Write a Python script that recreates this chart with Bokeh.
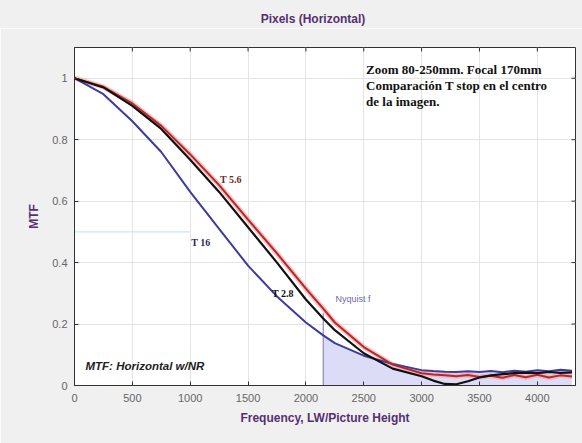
import math
from bokeh.plotting import figure
from bokeh.layouts import column
from bokeh.models import Range1d, Label, ColumnDataSource, FixedTicker, Div
from bokeh.embed import file_html
from bokeh.resources import INLINE

# Spatial frequency (LW/PH) at which each MTF curve is sampled
freq = [0, 250, 500, 750, 1000, 1250, 1500, 1750, 2000, 2150, 2250, 2500, 2750,
        3000, 3100, 3200, 3300, 3400, 3500, 3600, 3700, 3800, 3900, 4000, 4100, 4200, 4300]

# MTF for each T stop
mtf_t28 = [1.0, 0.97, 0.91, 0.835, 0.735, 0.63, 0.515, 0.40, 0.28, 0.218, 0.18, 0.105, 0.055,
           0.03, 0.016, 0.005, 0.004, 0.014, 0.026, 0.033, 0.037, 0.04, 0.042, 0.04, 0.044, 0.041, 0.043]
mtf_t56 = [1.0, 0.972, 0.918, 0.845, 0.752, 0.652, 0.54, 0.43, 0.315, 0.25, 0.205, 0.125, 0.068,
           0.04, 0.036, 0.033, 0.03, 0.034, 0.028, 0.032, 0.025, 0.034, 0.027, 0.035, 0.026, 0.033, 0.029]
mtf_t16 = [1.0, 0.948, 0.86, 0.76, 0.63, 0.51, 0.39, 0.29, 0.205, 0.163, 0.138, 0.097, 0.07,
           0.05, 0.047, 0.045, 0.044, 0.046, 0.044, 0.047, 0.043, 0.048, 0.045, 0.05, 0.046, 0.051, 0.048]

nyquist = 2150
mtf50_level = 0.5
mtf50_end = 1000

x_ticks = [0, 500, 1000, 1500, 2000, 2500, 3000, 3500, 4000]
y_ticks = [0, 0.2, 0.4, 0.6, 0.8, 1.0]
x_max, y_max = 4330, 1.1

src = ColumnDataSource(data=dict(f=freq, t28=mtf_t28, t56=mtf_t56, t16=mtf_t16))
beyond = [i for i, f in enumerate(freq) if f >= nyquist]
shade = ColumnDataSource(data=dict(f=[freq[i] for i in beyond],
                                   top=[mtf_t16[i] for i in beyond],
                                   bottom=[0] * len(beyond)))

PURPLE = "#553070"
FRAME = "#333333"
PANEL = "#f0f0f0"

# Title band above the chart
header = Div(
    text=('<div style="box-sizing:border-box;width:582px;height:28px;padding-top:11px;'
          'padding-left:44px;text-align:center;background-color:%s;'
          'font-family:\'Liberation Sans\';font-size:12px;font-weight:bold;'
          'color:%s;">Pixels (Horizontal)</div>' % (PANEL, PURPLE)),
    width=582, height=28, margin=(0, 0, 0, 0),
    styles={"background-color": PANEL},
)

p = figure(width=582, height=415, x_range=Range1d(0, x_max), y_range=Range1d(0, y_max),
           output_backend="svg", toolbar_location=None,
           min_border_left=74, min_border_right=7, min_border_top=19, min_border_bottom=58)
p.border_fill_color = PANEL
p.background_fill_color = "white"
p.outline_line_color = FRAME

for ax, ticks in ((p.xaxis, x_ticks), (p.yaxis, y_ticks)):
    ax.ticker = FixedTicker(ticks=ticks)
    ax.major_tick_in = 4
    ax.major_tick_out = 0
    ax.minor_tick_line_color = None
    ax.axis_line_color = FRAME
    ax.major_tick_line_color = FRAME
    ax.major_label_text_font = "Liberation Sans"
    ax.major_label_text_font_size = "11px"
    ax.major_label_text_color = "#666666"
    ax.axis_label_text_font = "Liberation Sans"
    ax.axis_label_text_font_size = "12px"
    ax.axis_label_text_font_style = "bold"
    ax.axis_label_text_color = PURPLE

p.xaxis.axis_label = "Frequency, LW/Picture Height"
p.xaxis.major_label_standoff = 8
p.xaxis.axis_label_standoff = 6
p.yaxis.axis_label = "MTF"
p.yaxis.major_label_standoff = 7
p.yaxis.axis_label_standoff = 8
p.yaxis.major_label_overrides = {0: "0", 1: "1"}

p.grid.grid_line_color = "#e4e4e4"
p.xgrid.ticker = FixedTicker(ticks=x_ticks)
p.ygrid.ticker = FixedTicker(ticks=y_ticks)

# Inward tick marks along the top and right edges of the box
p.ray(x=x_ticks, y=[y_max] * len(x_ticks), length=4, length_units="screen",
      angle=-math.pi / 2, line_color=FRAME, line_width=1)
p.ray(x=[x_max] * len(y_ticks), y=y_ticks, length=4, length_units="screen",
      angle=math.pi, line_color=FRAME, line_width=1)

# Region beyond Nyquist under the T 16 curve
p.varea(x="f", y1="bottom", y2="top", source=shade, fill_color="#d8d8f6", fill_alpha=0.9)
p.segment(x0=[nyquist], y0=[0], x1=[nyquist], y1=[0.235], line_color="#8a8ab8", line_width=1.2)

# MTF50 reference level
p.segment(x0=[0], y0=[mtf50_level], x1=[mtf50_end], y1=[mtf50_level],
          line_color="#bfeeee", line_width=1.2)

p.line("f", "t56", source=src, line_color="#f4a8a8", line_width=5, line_alpha=0.7)
p.line("f", "t16", source=src, line_color="#3c3ca0", line_width=2)
p.line("f", "t56", source=src, line_color="#b8282a", line_width=2)
p.line("f", "t28", source=src, line_color="#111111", line_width=2.2)

serif = "Liberation Serif"
labels = [
    ("T 5.6", 1351, 0.67, "#6a2a2a"),
    ("T 16", 1091, 0.464, "#2a2a5a"),
    ("T 2.8", 1801, 0.30, "#111111"),
]
for txt, x, y, c in labels:
    p.add_layout(Label(x=x, y=y, text=txt, text_font=serif, text_font_size="10px",
                       text_font_style="bold", text_color=c,
                       text_align="center", text_baseline="middle"))

p.add_layout(Label(x=2407, y=0.281, text="Nyquist f", text_font="Liberation Sans",
                   text_font_size="9px", text_color="#6a6aa8",
                   text_align="center", text_baseline="middle"))

p.add_layout(Label(x=95, y=0.065, text="MTF: Horizontal w/NR", text_font="Liberation Sans",
                   text_font_size="11.5px", text_font_style="bold italic", text_color="#222222",
                   text_align="left", text_baseline="middle"))

note = ["Zoom 80-250mm. Focal 170mm",
        "Comparación T stop en el centro",
        "de la imagen."]
for i, line in enumerate(note):
    p.add_layout(Label(x=2520, y=1.029 - 0.052 * i, text=line, text_font=serif,
                       text_font_size="13px", text_font_style="bold", text_color="#111111",
                       text_align="left", text_baseline="middle"))

layout = column(header, p, spacing=0)
open("out.html", "w").write(file_html(layout, INLINE))
